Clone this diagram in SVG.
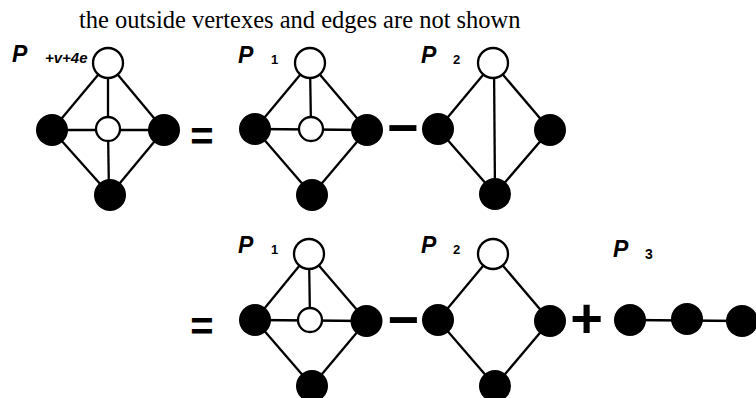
<svg xmlns="http://www.w3.org/2000/svg" width="756" height="398" viewBox="0 0 756 398">
<style>
.bg{fill:#fff}
.e{stroke:#000;stroke-width:2.3;fill:none}
.b{fill:#000}
.w{fill:#fff;stroke:#000;stroke-width:2.3}
.P{font-family:"Liberation Sans",Arial,sans-serif;font-weight:bold;font-style:italic;font-size:23px;fill:#000}
.sub{font-family:"Liberation Sans",Arial,sans-serif;font-weight:bold;font-size:13px;fill:#000}
.subi{font-family:"Liberation Sans",Arial,sans-serif;font-weight:bold;font-style:italic;font-size:15px;fill:#000}
.op{font-family:"Liberation Sans",Arial,sans-serif;font-weight:bold;fill:#000;text-anchor:middle}
.title{font-family:"Liberation Serif","Times New Roman",serif;font-size:24.5px;fill:#000}
</style>
<rect class="bg" x="0" y="0" width="756" height="398"/>
<text class="title" x="79" y="28">the outside vertexes and edges are not shown</text>

<g id="connectors">
  <!-- G1 -->
  <line class="e" x1="108" y1="63" x2="52" y2="130"/>
  <line class="e" x1="108" y1="63" x2="164" y2="130"/>
  <line class="e" x1="108" y1="63" x2="108" y2="129"/>
  <line class="e" x1="52" y1="130" x2="164" y2="130"/>
  <line class="e" x1="108" y1="129" x2="109" y2="195"/>
  <line class="e" x1="52" y1="130" x2="110" y2="195"/>
  <line class="e" x1="164" y1="130" x2="110" y2="195"/>
  <!-- G2 -->
  <line class="e" x1="310" y1="63" x2="255" y2="129"/>
  <line class="e" x1="310" y1="63" x2="367" y2="130"/>
  <line class="e" x1="310" y1="63" x2="311" y2="129"/>
  <line class="e" x1="255" y1="129" x2="367" y2="130"/>
  <line class="e" x1="255" y1="129" x2="312" y2="195"/>
  <line class="e" x1="367" y1="130" x2="312" y2="195"/>
  <!-- G3 -->
  <line class="e" x1="493" y1="63" x2="438" y2="129"/>
  <line class="e" x1="493" y1="63" x2="550" y2="130"/>
  <line class="e" x1="494" y1="63" x2="495" y2="194"/>
  <line class="e" x1="438" y1="129" x2="495" y2="194"/>
  <line class="e" x1="550" y1="130" x2="495" y2="194"/>
  <!-- G4 -->
  <line class="e" x1="309" y1="254" x2="255" y2="320"/>
  <line class="e" x1="309" y1="254" x2="366.5" y2="321"/>
  <line class="e" x1="309" y1="254" x2="310" y2="320"/>
  <line class="e" x1="255" y1="320" x2="366.5" y2="321"/>
  <line class="e" x1="255" y1="320" x2="312" y2="386"/>
  <line class="e" x1="366.5" y1="321" x2="312" y2="386"/>
  <!-- G5 -->
  <line class="e" x1="493" y1="254" x2="438" y2="320"/>
  <line class="e" x1="493" y1="254" x2="550" y2="321"/>
  <line class="e" x1="438" y1="320" x2="495" y2="386"/>
  <line class="e" x1="550" y1="321" x2="495" y2="386"/>
  <!-- G6 -->
  <line class="e" x1="630" y1="320" x2="742" y2="321"/>
</g>

<g id="g1">
  <g id="g1-top"><circle class="w" cx="108" cy="63" r="15"/></g>
  <g id="g1-left"><circle class="b" cx="52" cy="130" r="16"/></g>
  <g id="g1-center"><circle class="w" cx="108" cy="129" r="12"/></g>
  <g id="g1-right"><circle class="b" cx="164" cy="130" r="16"/></g>
  <g id="g1-bottom"><circle class="b" cx="110" cy="195" r="16"/></g>
  <g id="g1-label"><text class="P" x="12" y="61.5">P</text><text class="subi" x="45" y="63">+v+4e</text></g>
</g>

<g id="g2">
  <g id="g2-top"><circle class="w" cx="310" cy="63" r="15"/></g>
  <g id="g2-left"><circle class="b" cx="255" cy="129" r="16"/></g>
  <g id="g2-center"><circle class="w" cx="311" cy="129" r="12"/></g>
  <g id="g2-right"><circle class="b" cx="367" cy="130" r="16"/></g>
  <g id="g2-bottom"><circle class="b" cx="312" cy="195" r="16"/></g>
  <g id="g2-label"><text class="P" x="238" y="63.3">P</text><text class="sub" x="271" y="63.5">1</text></g>
</g>

<g id="g3">
  <g id="g3-top"><circle class="w" cx="493" cy="63" r="15"/></g>
  <g id="g3-left"><circle class="b" cx="438" cy="129" r="16"/></g>
  <g id="g3-right"><circle class="b" cx="550" cy="130" r="16"/></g>
  <g id="g3-bottom"><circle class="b" cx="495" cy="194" r="16"/></g>
  <g id="g3-label"><text class="P" x="421" y="63.3">P</text><text class="sub" x="453" y="63.5">2</text></g>
</g>

<g id="g4">
  <g id="g4-top"><circle class="w" cx="309" cy="254" r="15"/></g>
  <g id="g4-left"><circle class="b" cx="255" cy="320" r="16"/></g>
  <g id="g4-center"><circle class="w" cx="310" cy="320" r="12"/></g>
  <g id="g4-right"><circle class="b" cx="366.5" cy="321" r="16"/></g>
  <g id="g4-bottom"><circle class="b" cx="312" cy="386" r="16"/></g>
  <g id="g4-label"><text class="P" x="238" y="253.3">P</text><text class="sub" x="271" y="254">1</text></g>
</g>

<g id="g5">
  <g id="g5-top"><circle class="w" cx="493" cy="254" r="15"/></g>
  <g id="g5-left"><circle class="b" cx="438" cy="320" r="16"/></g>
  <g id="g5-right"><circle class="b" cx="550" cy="321" r="16"/></g>
  <g id="g5-bottom"><circle class="b" cx="495" cy="386" r="16"/></g>
  <g id="g5-label"><text class="P" x="421" y="253.3">P</text><text class="sub" x="453" y="254">2</text></g>
</g>

<g id="g6">
  <g id="g6-n1"><circle class="b" cx="630" cy="320" r="16"/></g>
  <g id="g6-n2"><circle class="b" cx="687" cy="319" r="16"/></g>
  <g id="g6-n3"><circle class="b" cx="742" cy="321" r="16"/></g>
  <g id="g6-label"><text class="P" x="613" y="256.7">P</text><text class="sub" x="645" y="259" style="font-size:14px">3</text></g>
</g>

<g id="operators">
  <text class="op" x="202" y="149.5" font-size="40">=</text>
  <text class="op" x="403" y="146.4" font-size="54">−</text>
  <text class="op" x="202" y="339.5" font-size="40">=</text>
  <text class="op" x="403.5" y="338.4" font-size="54">−</text>
  <text class="op" x="586.7" y="336.8" font-size="56">+</text>
</g>
</svg>
